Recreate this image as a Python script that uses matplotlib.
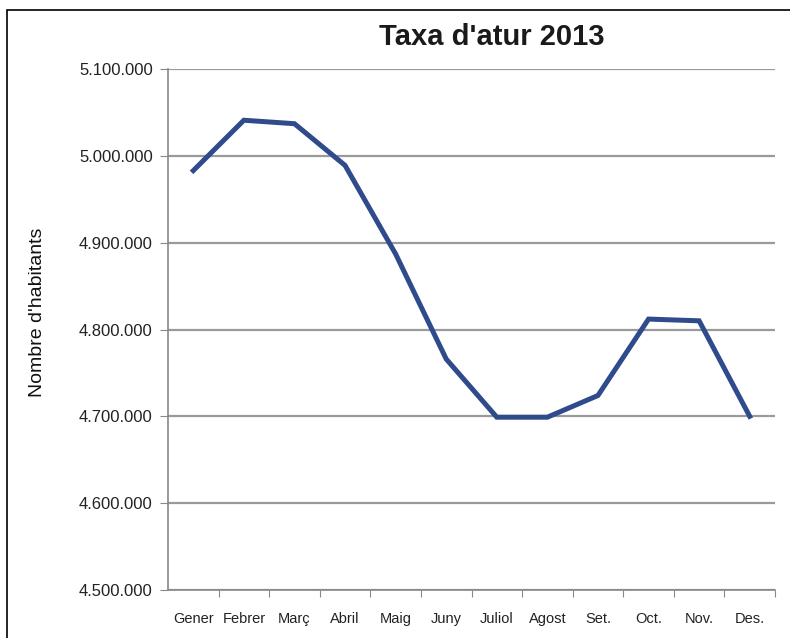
import matplotlib
matplotlib.use("Agg")
import matplotlib.pyplot as plt
import matplotlib.ticker as mticker
from matplotlib.patches import Rectangle

plt.rcParams["font.family"] = ["Liberation Sans", "DejaVu Sans"]

# Atur registrat per mes, 2013 (llegit del gràfic)
mesos = ["Gener", "Febrer", "Març", "Abril", "Maig", "Juny",
         "Juliol", "Agost", "Set.", "Oct.", "Nov.", "Des."]
habitants = [4983000, 5041000, 5037000, 4989000, 4887000, 4766000,
             4699000, 4699000, 4724000, 4812000, 4810000, 4700000]
y_ticks = [4500000, 4600000, 4700000, 4800000, 4900000, 5000000, 5100000]

fig = plt.figure(figsize=(7.9, 6.38), dpi=100)
ax = fig.add_axes([168 / 790, 1 - 590 / 638, (775 - 168) / 790, (590 - 69) / 638])

x = list(range(len(mesos)))
ax.plot(x, habitants, color="#2f4b8c", linewidth=3.6, solid_joinstyle="miter")

ax.set_xlim(-0.5, len(mesos) - 0.5)
ax.set_ylim(y_ticks[0], y_ticks[-1])
ax.set_yticks(y_ticks)
ax.yaxis.set_major_formatter(
    mticker.FuncFormatter(lambda v, p: f"{int(v):,}".replace(",", ".")))

# ticks on category boundaries, labels at the centres
ax.set_xticks([i - 0.5 for i in range(1, len(mesos) + 1)])
ax.set_xticklabels([])
ax.set_xticks(x, minor=True)
ax.set_xticklabels(mesos, minor=True, fontsize=10.5, color="#222222")
ax.tick_params(axis="x", which="major", length=5, color="#888888", direction="out")
ax.tick_params(axis="x", which="minor", length=0, pad=16)
ax.tick_params(axis="y", length=6, color="#888888", labelsize=12,
               labelcolor="#222222", pad=5)

ax.grid(axis="y", color="#9a9a9a", linewidth=1.6)
ax.set_axisbelow(True)
for side in ["top", "right"]:
    ax.spines[side].set_visible(False)
for side in ["left", "bottom"]:
    ax.spines[side].set_color("#888888")
    ax.spines[side].set_linewidth(1.2)

ax.set_ylabel("Nombre d'habitants", fontsize=14, color="#111111")
ax.yaxis.set_label_coords((46 - 168) / (775 - 168), (590 - 312) / (590 - 69))
fig.text(492 / 790, 1 - 37 / 638, "Taxa d'atur 2013", ha="center", va="center",
         fontsize=21, fontweight="bold", color="#1a1a1a")

# black frame round the chart
fig.patches.append(Rectangle((7 / 790, -0.05), 1.0, 1 - 10 / 638 + 0.05,
                             transform=fig.transFigure, fill=False,
                             edgecolor="black", linewidth=1.2))

fig.savefig("out.png", dpi=100)
